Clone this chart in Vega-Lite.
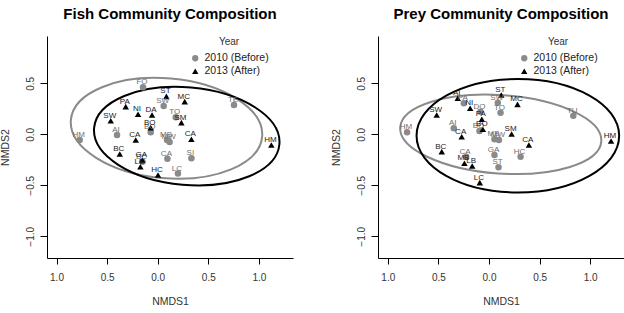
{
  "$schema": "https://vega.github.io/schema/vega-lite/v6.json",
  "padding": {"left": 0, "top": 7, "right": 0, "bottom": 0},
  "spacing": 38,
  "datasets": {
    "fish": [
      {"site": "FO", "year": "2010 (Before)", "nmds1": -0.145, "nmds2": 0.461},
      {"site": "SW", "year": "2010 (Before)", "nmds1": 0.059, "nmds2": 0.277},
      {"site": "TO", "year": "2010 (Before)", "nmds1": 0.178, "nmds2": 0.167},
      {"site": "TE", "year": "2010 (Before)", "nmds1": 0.754, "nmds2": 0.287},
      {"site": "HM", "year": "2010 (Before)", "nmds1": -0.771, "nmds2": -0.056},
      {"site": "AI", "year": "2010 (Before)", "nmds1": -0.402, "nmds2": -0.007},
      {"site": "BO", "year": "2010 (Before)", "nmds1": -0.069, "nmds2": 0.02},
      {"site": "MB", "year": "2010 (Before)", "nmds1": 0.092, "nmds2": -0.055},
      {"site": "MW", "year": "2010 (Before)", "nmds1": 0.118, "nmds2": -0.075},
      {"site": "CA", "year": "2010 (Before)", "nmds1": 0.096, "nmds2": -0.24},
      {"site": "SI", "year": "2010 (Before)", "nmds1": 0.333, "nmds2": -0.235},
      {"site": "LC", "year": "2010 (Before)", "nmds1": 0.2, "nmds2": -0.385},
      {"site": "BC", "year": "2010 (Before)", "nmds1": -0.15, "nmds2": -0.27},
      {"site": "ST", "year": "2013 (After)", "nmds1": 0.086, "nmds2": 0.372},
      {"site": "MC", "year": "2013 (After)", "nmds1": 0.267, "nmds2": 0.32},
      {"site": "PA", "year": "2013 (After)", "nmds1": -0.316, "nmds2": 0.271},
      {"site": "NI", "year": "2013 (After)", "nmds1": -0.194, "nmds2": 0.196},
      {"site": "DA", "year": "2013 (After)", "nmds1": -0.056, "nmds2": 0.189},
      {"site": "SW", "year": "2013 (After)", "nmds1": -0.464, "nmds2": 0.133},
      {"site": "SM", "year": "2013 (After)", "nmds1": 0.234, "nmds2": 0.114},
      {"site": "BO", "year": "2013 (After)", "nmds1": -0.069, "nmds2": 0.065},
      {"site": "CA", "year": "2013 (After)", "nmds1": -0.217, "nmds2": -0.056},
      {"site": "CA", "year": "2013 (After)", "nmds1": 0.333, "nmds2": -0.049},
      {"site": "HM", "year": "2013 (After)", "nmds1": 1.123, "nmds2": -0.105},
      {"site": "BC", "year": "2013 (After)", "nmds1": -0.375, "nmds2": -0.193},
      {"site": "GA", "year": "2013 (After)", "nmds1": -0.152, "nmds2": -0.252},
      {"site": "LE", "year": "2013 (After)", "nmds1": -0.171, "nmds2": -0.318},
      {"site": "HC", "year": "2013 (After)", "nmds1": 0.003, "nmds2": -0.399}
    ],
    "prey": [
      {"site": "HM", "year": "2010 (Before)", "nmds1": -0.81, "nmds2": 0.02},
      {"site": "AI", "year": "2010 (Before)", "nmds1": -0.348, "nmds2": 0.059},
      {"site": "PA", "year": "2010 (Before)", "nmds1": -0.249, "nmds2": 0.304},
      {"site": "DO", "year": "2010 (Before)", "nmds1": -0.084, "nmds2": 0.222},
      {"site": "BO", "year": "2010 (Before)", "nmds1": -0.094, "nmds2": 0.032},
      {"site": "SW", "year": "2010 (Before)", "nmds1": 0.087, "nmds2": 0.31},
      {"site": "TO", "year": "2010 (Before)", "nmds1": 0.114, "nmds2": 0.212},
      {"site": "TU", "year": "2010 (Before)", "nmds1": 0.833, "nmds2": 0.182},
      {"site": "MB", "year": "2010 (Before)", "nmds1": 0.054, "nmds2": -0.049},
      {"site": "MW", "year": "2010 (Before)", "nmds1": 0.098, "nmds2": -0.056},
      {"site": "CA", "year": "2010 (Before)", "nmds1": -0.226, "nmds2": -0.22},
      {"site": "GA", "year": "2010 (Before)", "nmds1": 0.054, "nmds2": -0.203},
      {"site": "ST", "year": "2010 (Before)", "nmds1": 0.094, "nmds2": -0.324},
      {"site": "HC", "year": "2010 (Before)", "nmds1": 0.312, "nmds2": -0.22},
      {"site": "AI", "year": "2013 (After)", "nmds1": -0.309, "nmds2": 0.353},
      {"site": "NI", "year": "2013 (After)", "nmds1": -0.186, "nmds2": 0.255},
      {"site": "SW", "year": "2013 (After)", "nmds1": -0.517, "nmds2": 0.189},
      {"site": "PA", "year": "2013 (After)", "nmds1": -0.071, "nmds2": 0.147},
      {"site": "BO", "year": "2013 (After)", "nmds1": -0.061, "nmds2": 0.049},
      {"site": "ST", "year": "2013 (After)", "nmds1": 0.121, "nmds2": 0.385},
      {"site": "MC", "year": "2013 (After)", "nmds1": 0.282, "nmds2": 0.294},
      {"site": "SM", "year": "2013 (After)", "nmds1": 0.223, "nmds2": 0.003},
      {"site": "CA", "year": "2013 (After)", "nmds1": -0.27, "nmds2": -0.024},
      {"site": "BC", "year": "2013 (After)", "nmds1": -0.467, "nmds2": -0.17},
      {"site": "MB", "year": "2013 (After)", "nmds1": -0.243, "nmds2": -0.284},
      {"site": "LB", "year": "2013 (After)", "nmds1": -0.166, "nmds2": -0.311},
      {"site": "CA", "year": "2013 (After)", "nmds1": 0.394, "nmds2": -0.105},
      {"site": "HM", "year": "2013 (After)", "nmds1": 1.206, "nmds2": -0.066},
      {"site": "LC", "year": "2013 (After)", "nmds1": -0.091, "nmds2": -0.474}
    ],
    "fishEllipses": [
      {"year": "2010 (Before)", "nmds1": 0.087, "nmds2": 0.059},
      {"year": "2013 (After)", "nmds1": 0.287, "nmds2": -0.018}
    ],
    "preyEllipses": [
      {"year": "2010 (Before)", "nmds1": 0.116, "nmds2": 0.0},
      {"year": "2013 (After)", "nmds1": 0.285, "nmds2": -0.014}
    ]
  },
  "resolve": {"scale": {"color": "independent", "shape": "independent"}},
  "hconcat": [
    {
      "title": "Fish Community Composition",
      "width": 246,
      "height": 222,
      "layer": [
        {
          "data": {"name": "fishEllipses"},
          "transform": [{"filter": "datum.year === '2010 (Before)'"}],
          "mark": {"type": "point", "filled": false, "stroke": "#8a8a8a", "strokeWidth": 2, "opacity": 1, "size": 36864, "angle": 5,
                   "shape": "M -1 0 C -1 -0.2872 -0.5523 -0.52 0 -0.52 C 0.5523 -0.52 1 -0.2872 1 0 C 1 0.2872 0.5523 0.52 0 0.52 C -0.5523 0.52 -1 0.2872 -1 0 Z"},
          "encoding": {
            "x": {"field": "nmds1", "type": "quantitative", "scale": {"domain": [-1.094, 1.337], "nice": false, "zero": false},
                  "axis": {"title": "NMDS1", "values": [-1, -0.5, 0, 0.5, 1], "labelExpr": "format(abs(datum.value), '.1f')", "tickSize": 6, "labelPadding": 8, "titlePadding": 14}},
            "y": {"field": "nmds2", "type": "quantitative", "scale": {"domain": [-1.213, 0.964], "nice": false, "zero": false},
                  "axis": {"title": "NMDS2", "values": [-1, -0.5, 0, 0.5], "labelAngle": -90, "labelAlign": "center", "labelBaseline": "bottom", "tickSize": 7, "labelPadding": 5, "titlePadding": 15}}
          }
        },
        {
          "data": {"name": "fishEllipses"},
          "transform": [{"filter": "datum.year === '2013 (After)'"}],
          "mark": {"type": "point", "filled": false, "stroke": "#000000", "strokeWidth": 2, "opacity": 1, "size": 34596, "angle": 5,
                   "shape": "M -1 0 C -1 -0.29 -0.5523 -0.525 0 -0.525 C 0.5523 -0.525 1 -0.29 1 0 C 1 0.29 0.5523 0.525 0 0.525 C -0.5523 0.525 -1 0.29 -1 0 Z"},
          "encoding": {
            "x": {"field": "nmds1", "type": "quantitative"},
            "y": {"field": "nmds2", "type": "quantitative"}
          }
        },
        {
          "data": {"name": "fish"},
          "mark": {"type": "point", "filled": true, "opacity": 1, "size": 42},
          "encoding": {
            "x": {"field": "nmds1", "type": "quantitative"},
            "y": {"field": "nmds2", "type": "quantitative"},
            "color": {"field": "year", "type": "nominal", "scale": {"domain": ["2010 (Before)", "2013 (After)"], "range": ["#8a8a8a", "#000000"]},
                      "legend": {"title": "Year", "orient": "none", "legendX": 143, "legendY": 1}},
            "shape": {"field": "year", "type": "nominal", "scale": {"domain": ["2010 (Before)", "2013 (After)"], "range": ["circle", "triangle-up"]},
                      "legend": {"title": "Year", "orient": "none", "legendX": 143, "legendY": 1}}
          }
        },
        {
          "data": {"name": "fish"},
          "mark": {"type": "text", "fontSize": 8, "font": "Liberation Sans", "dy": -5, "dx": -1},
          "encoding": {
            "x": {"field": "nmds1", "type": "quantitative"},
            "y": {"field": "nmds2", "type": "quantitative"},
            "text": {"field": "site"},
            "color": {"condition": {"test": "datum.year === '2013 (After)'", "value": "#1a1a1a"}, "value": "#6e6e6e"}
          }
        },
        {
          "mark": {"type": "text", "text": "Stress: 0.2566", "fontSize": 10, "font": "Liberation Sans", "color": "#333333"},
          "encoding": {"x": {"datum": 0.72}, "y": {"datum": -1.02}}
        },
        {
          "mark": {"type": "rule", "color": "#9a9a9a", "strokeWidth": 2},
          "encoding": {"x": {"datum": 1.337}}
        }
      ]
    },
    {
      "title": "Prey Community Composition",
      "width": 246,
      "height": 222,
      "layer": [
        {
          "data": {"name": "preyEllipses"},
          "transform": [{"filter": "datum.year === '2010 (Before)'"}],
          "mark": {"type": "point", "filled": false, "stroke": "#8a8a8a", "strokeWidth": 2, "opacity": 1, "size": 40643, "angle": 4,
                   "shape": "M -1 0 C -1 -0.2148 -0.5523 -0.389 0 -0.389 C 0.5523 -0.389 1 -0.2148 1 0 C 1 0.2148 0.5523 0.389 0 0.389 C -0.5523 0.389 -1 0.2148 -1 0 Z"},
          "encoding": {
            "x": {"field": "nmds1", "type": "quantitative", "scale": {"domain": [-1.097, 1.334], "nice": false, "zero": false},
                  "axis": {"title": "NMDS1", "values": [-1, -0.5, 0, 0.5, 1], "labelExpr": "format(abs(datum.value), '.1f')", "tickSize": 6, "labelPadding": 8, "titlePadding": 14}},
            "y": {"field": "nmds2", "type": "quantitative", "scale": {"domain": [-1.213, 0.964], "nice": false, "zero": false},
                  "axis": {"title": "NMDS2", "values": [-1, -0.5, 0, 0.5], "labelAngle": -90, "labelAlign": "center", "labelBaseline": "bottom", "tickSize": 7, "labelPadding": 5, "titlePadding": 15}}
          }
        },
        {
          "data": {"name": "preyEllipses"},
          "transform": [{"filter": "datum.year === '2013 (After)'"}],
          "mark": {"type": "point", "filled": false, "stroke": "#000000", "strokeWidth": 2, "opacity": 1, "size": 41047, "angle": 0,
                   "shape": "M -1 0 C -1 -0.3093 -0.5523 -0.56 0 -0.56 C 0.5523 -0.56 1 -0.3093 1 0 C 1 0.3093 0.5523 0.56 0 0.56 C -0.5523 0.56 -1 0.3093 -1 0 Z"},
          "encoding": {
            "x": {"field": "nmds1", "type": "quantitative"},
            "y": {"field": "nmds2", "type": "quantitative"}
          }
        },
        {
          "data": {"name": "prey"},
          "mark": {"type": "point", "filled": true, "opacity": 1, "size": 42},
          "encoding": {
            "x": {"field": "nmds1", "type": "quantitative"},
            "y": {"field": "nmds2", "type": "quantitative"},
            "color": {"field": "year", "type": "nominal", "scale": {"domain": ["2010 (Before)", "2013 (After)"], "range": ["#8a8a8a", "#000000"]},
                      "legend": {"title": "Year", "orient": "none", "legendX": 141, "legendY": 1}},
            "shape": {"field": "year", "type": "nominal", "scale": {"domain": ["2010 (Before)", "2013 (After)"], "range": ["circle", "triangle-up"]},
                      "legend": {"title": "Year", "orient": "none", "legendX": 141, "legendY": 1}}
          }
        },
        {
          "data": {"name": "prey"},
          "mark": {"type": "text", "fontSize": 8, "font": "Liberation Sans", "dy": -5, "dx": -1},
          "encoding": {
            "x": {"field": "nmds1", "type": "quantitative"},
            "y": {"field": "nmds2", "type": "quantitative"},
            "text": {"field": "site"},
            "color": {"condition": {"test": "datum.year === '2013 (After)'", "value": "#1a1a1a"}, "value": "#6e6e6e"}
          }
        },
        {
          "mark": {"type": "text", "text": "Stress:0.2399", "fontSize": 10, "font": "Liberation Sans", "color": "#333333"},
          "encoding": {"x": {"datum": 0.71}, "y": {"datum": -1.02}}
        },
        {
          "mark": {"type": "rule", "color": "#9a9a9a", "strokeWidth": 2},
          "encoding": {"x": {"datum": 1.334}}
        }
      ]
    }
  ],
  "config": {
    "view": {"stroke": null},
    "font": "Liberation Sans",
    "title": {"font": "Liberation Sans", "fontSize": 15, "fontWeight": "bold", "color": "#000000", "anchor": "middle", "offset": 14},
    "axis": {
      "grid": false,
      "domainColor": "#000000",
      "domainWidth": 1,
      "tickColor": "#000000",
      "labelColor": "#333333",
      "titleColor": "#333333",
      "labelFont": "Liberation Sans",
      "titleFont": "Liberation Sans",
      "labelFontSize": 10,
      "titleFontSize": 10.5,
      "titleFontWeight": "normal",
      "labelOverlap": false
    },
    "legend": {
      "titleFont": "Liberation Sans",
      "labelFont": "Liberation Sans",
      "titleFontSize": 10,
      "titleFontWeight": "normal",
      "titleColor": "#333333",
      "titleAnchor": "middle",
      "titleAlign": "center",
      "titlePadding": 6,
      "labelFontSize": 10.5,
      "labelColor": "#222222",
      "symbolSize": 40,
      "symbolStrokeWidth": 0,
      "rowPadding": 2,
      "labelOffset": 4
    }
  }
}
